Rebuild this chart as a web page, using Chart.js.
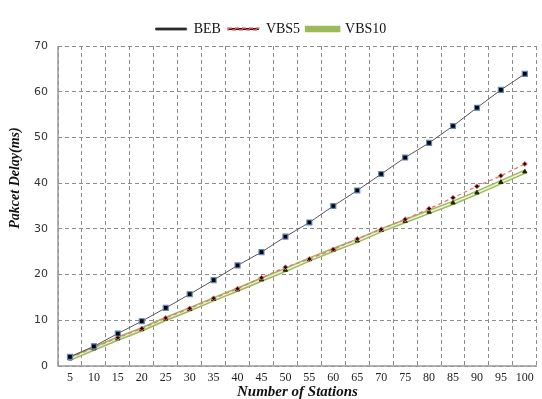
<!DOCTYPE html>
<html>
<head>
<meta charset="utf-8">
<script src="https://cdn.jsdelivr.net/npm/chart.js@4.4.0/dist/chart.umd.min.js"></script>
<style>
  html, body { margin: 0; padding: 0; background: #fff; }
  #wrap { width: 542px; height: 399px; }
</style>
</head>
<body>
<div id="wrap"><canvas id="c"></canvas></div>
<script>
var stations = ['5', '10', '15', '20', '25', '30', '35', '40', '45', '50',
                '55', '60', '65', '70', '75', '80', '85', '90', '95', '100'];
var beb   = [2.0, 4.3, 7.1, 9.8, 12.7, 15.7, 18.8, 22.0, 24.9, 28.3,
             31.4, 35.0, 38.4, 42.0, 45.6, 48.8, 52.5, 56.5, 60.4, 63.9];
var vbs5  = [1.8, 4.0, 6.2, 8.2, 10.5, 12.6, 14.8, 16.9, 19.3, 21.6,
             23.4, 25.5, 27.8, 29.9, 32.1, 34.4, 36.8, 39.3, 41.6, 44.2];
var vbs10 = [1.6, 3.8, 6.0, 8.0, 10.3, 12.4, 14.6, 16.7, 18.9, 21.0,
             23.3, 25.4, 27.4, 29.7, 31.7, 33.7, 35.7, 37.9, 40.2, 42.5];
var yTicks = [0, 10, 20, 30, 40, 50, 60, 70];
var yTitle = 'Pakcet Delay(ms)';

var serif = "'Liberation Serif', 'Times New Roman', serif";
var sans = "'DejaVu Sans', Verdana, sans-serif";

// solid axis lines (grid lines are dashed) and the y title, which sits above centre
var axisLines = {
    id: 'axisLines',
    afterDraw: function (c) {
        var a = c.chartArea, g = c.ctx;
        g.save();
        g.strokeStyle = '#999';
        g.lineWidth = 1.5;
        g.setLineDash([]);
        g.beginPath();
        g.moveTo(a.left, a.top);
        g.lineTo(a.left, a.bottom);
        g.lineTo(a.right, a.bottom);
        g.stroke();

        g.translate(15, 178);
        g.rotate(-Math.PI / 2);
        g.font = 'italic bold 14px ' + serif;
        g.fillStyle = '#111';
        g.textAlign = 'center';
        g.textBaseline = 'middle';
        g.fillText(yTitle, 0, 0);
        g.restore();
    }
};

var ctx = document.getElementById('c');
var chart = new Chart(ctx, {
    type: 'line',
    data: {
        labels: stations,
        datasets: [{
            label: 'BEB',
            data: beb,
            order: 0,
            borderColor: '#555555',
            borderWidth: 1,
            backgroundColor: '#000000',
            pointStyle: 'rect',
            pointRadius: 3.5,
            pointBorderColor: '#5b86c0',
            pointBorderWidth: 1.2,
            pointBackgroundColor: '#000000',
            tension: 0
        }, {
            label: 'VBS5',
            data: vbs5,
            order: 1,
            borderColor: '#e07a78',
            borderWidth: 1.3,
            borderDash: [4, 3],
            backgroundColor: '#5a0000',
            pointStyle: 'rectRot',
            pointRadius: 2.5,
            pointBorderColor: '#d97f7c',
            pointBorderWidth: 1,
            pointBackgroundColor: '#3a0000',
            tension: 0
        }, {
            label: 'VBS10',
            data: vbs10,
            order: 3,
            borderColor: '#9bbb59',
            borderWidth: 4.5,
            backgroundColor: '#d8e6b8',
            pointRadius: 0,
            tension: 0
        }, {
            label: 'VBS10 inner',
            data: vbs10,
            order: 2,
            borderColor: '#eef3dc',
            borderWidth: 1.5,
            pointStyle: 'triangle',
            pointRadius: 2.5,
            pointBorderColor: '#1a2a00',
            pointBorderWidth: 1,
            pointBackgroundColor: '#1a2a00',
            tension: 0
        }]
    },
    options: {
        responsive: true,
        maintainAspectRatio: false,
        animation: false,
        layout: { padding: { top: 15, left: 0, right: 0, bottom: 0 } },
        plugins: {
            legend: {
                position: 'top',
                labels: {
                    font: { family: serif, size: 14 },
                    color: '#111',
                    boxWidth: 31,
                    boxHeight: 2,
                    padding: 7,
                    filter: function (item) { return item.text !== 'VBS10 inner'; }
                }
            },
            tooltip: { enabled: false }
        },
        scales: {
            x: {
                offset: true,
                grid: {
                    offset: true,
                    color: '#8c8c8c',
                    lineWidth: 1,
                    drawTicks: false
                },
                border: { display: false, dash: [4, 3] },
                ticks: {
                    font: { family: serif, size: 12 },
                    color: '#222',
                    padding: 5,
                    maxRotation: 0,
                    autoSkip: false
                },
                title: {
                    display: true,
                    text: 'Number of Stations',
                    font: { family: serif, size: 15, style: 'italic', weight: 'bold', lineHeight: 1 },
                    color: '#111',
                    padding: { top: 0, bottom: -1 }
                },
                afterFit: function (scale) { scale.height = 33; }
            },
            y: {
                min: 0,
                max: 70,
                afterBuildTicks: function (scale) {
                    scale.ticks = yTicks.map(function (v) { return { value: v }; });
                },
                grid: {
                    color: '#8c8c8c',
                    lineWidth: 1,
                    drawTicks: false
                },
                border: { display: false, dash: [4, 3] },
                ticks: {
                    font: { family: sans, size: 11 },
                    color: '#333',
                    padding: 10
                },
                afterFit: function (scale) { scale.width = 58; }
            }
        }
    },
    plugins: [axisLines]
});
</script>
</body>
</html>
